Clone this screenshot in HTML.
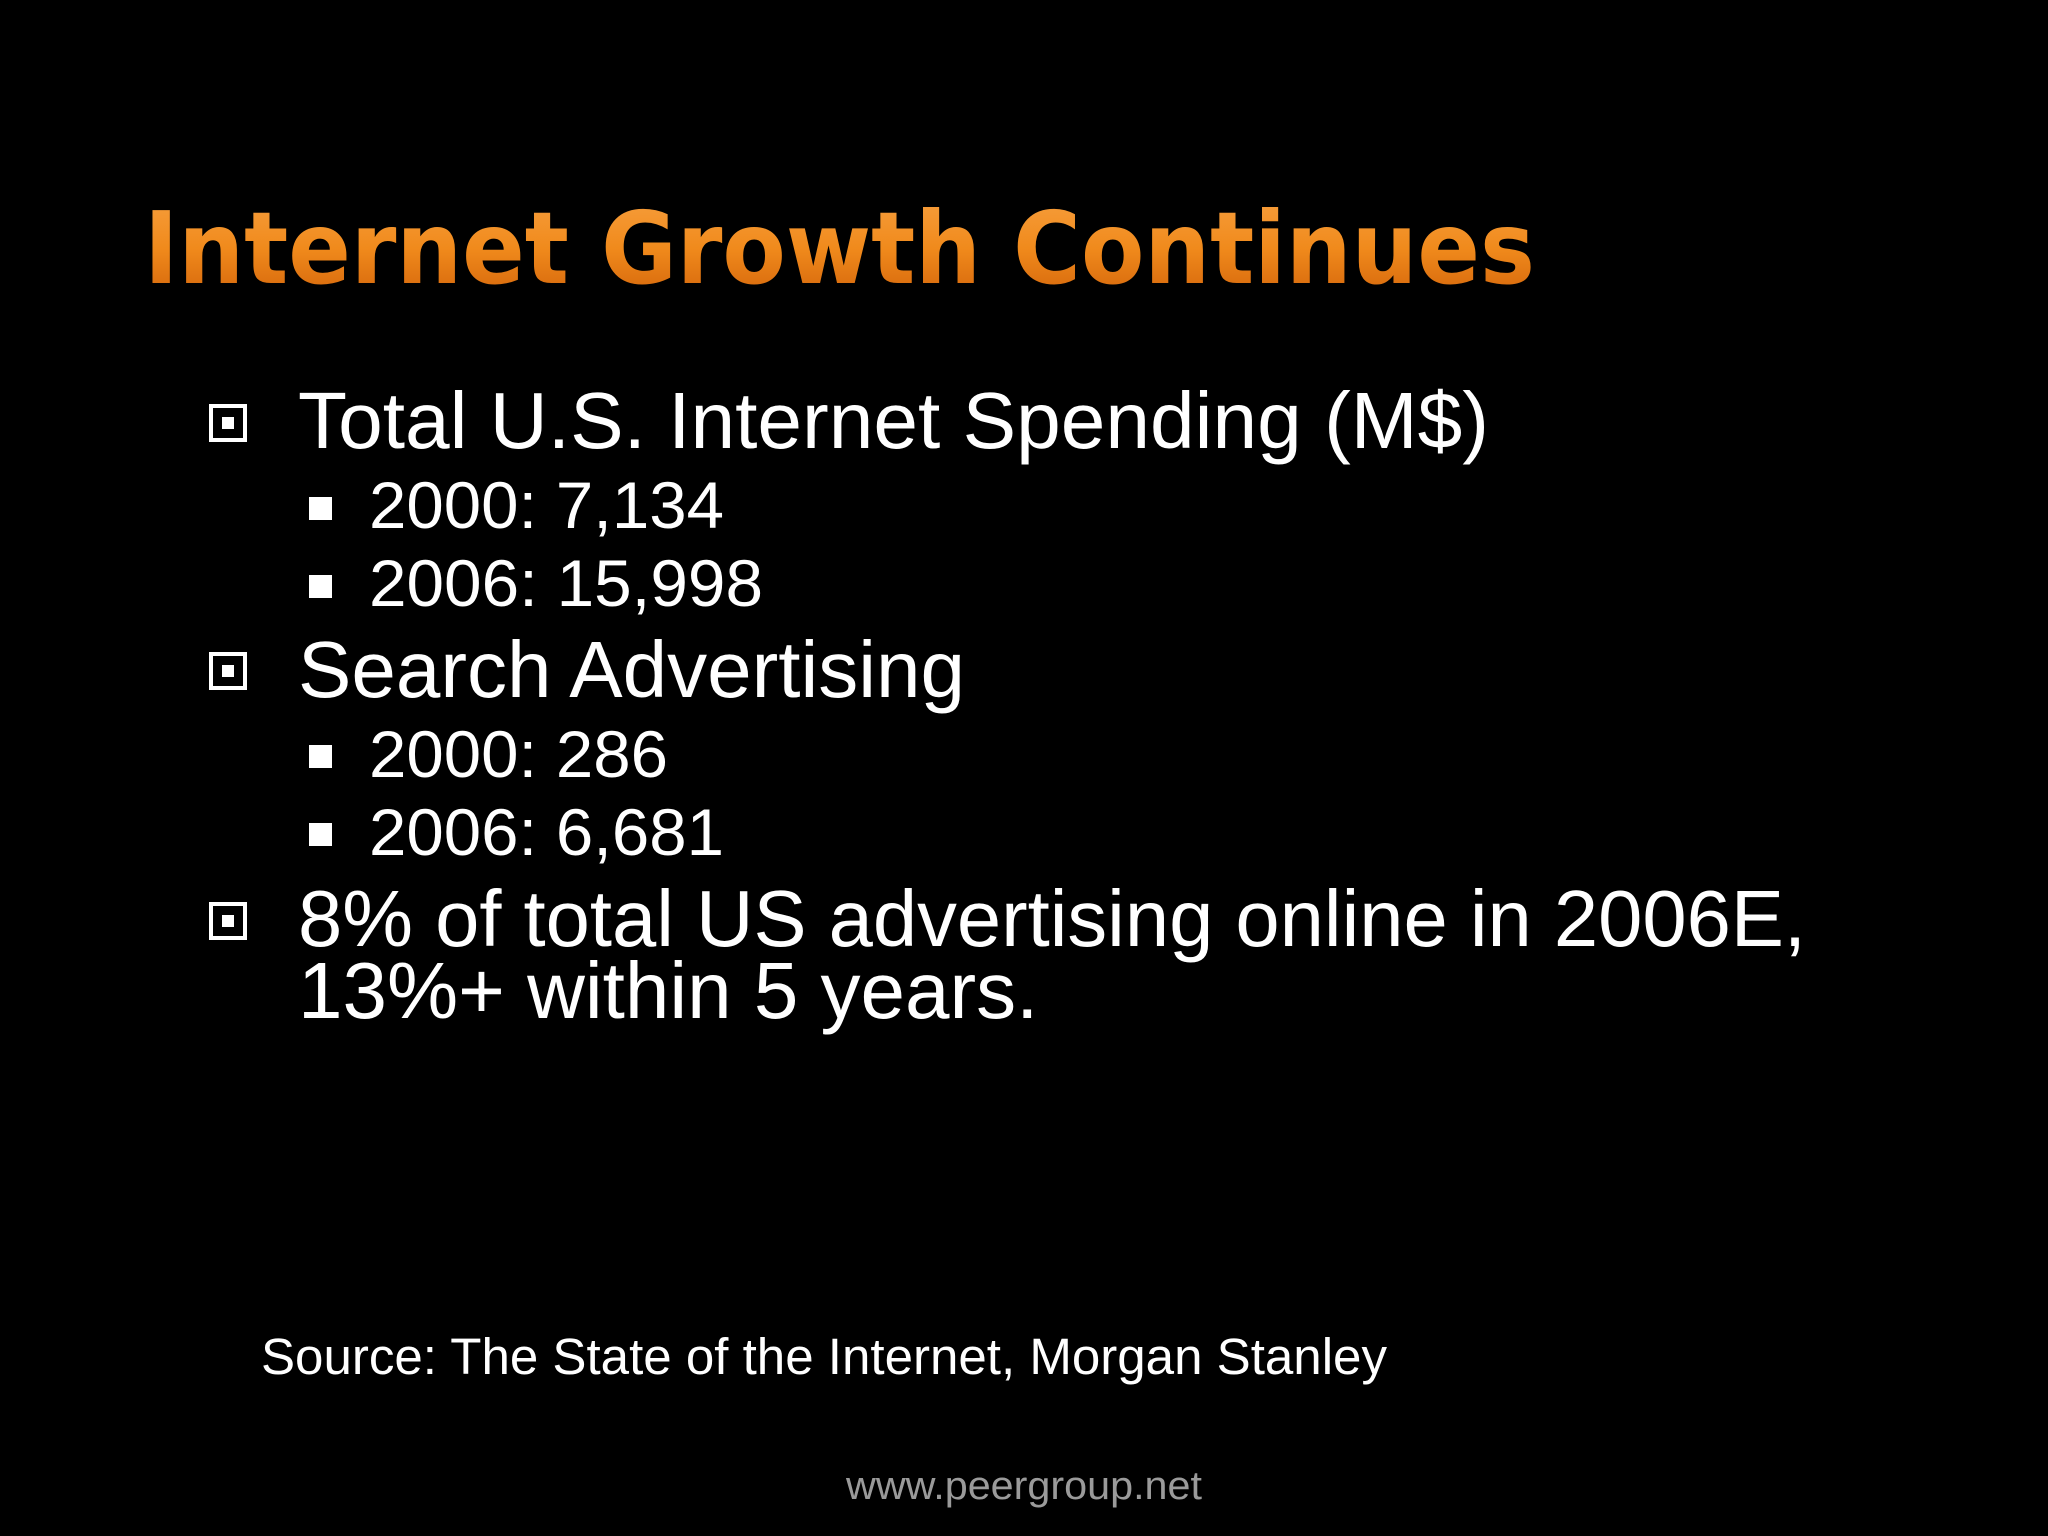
<!DOCTYPE html>
<html><head><meta charset="utf-8"><style>
html,body{margin:0;padding:0;background:#000;}
svg{display:block}
text{font-family:"Liberation Sans",Arial,sans-serif;fill:#fff}
</style></head><body>
<svg width="2048" height="1536" viewBox="0 0 2048 1536">
<defs><linearGradient id="og" x1="0" y1="0" x2="0" y2="1">
<stop offset="0" stop-color="#f7a040"/><stop offset="0.5" stop-color="#f08a1c"/><stop offset="1" stop-color="#d06008"/></linearGradient></defs>
<rect width="2048" height="1536" fill="#000"/>
<text x="144" y="283" font-size="100" font-weight="bold" style="font-family:'DejaVu Sans',sans-serif;fill:url(#og)" textLength="1391" lengthAdjust="spacingAndGlyphs">Internet Growth Continues</text>

<g>
<rect x="211" y="406" width="34" height="34" fill="none" stroke="#fff" stroke-width="4"/><rect x="222" y="417" width="12" height="12" fill="#fff"/>
<text x="298" y="448" font-size="80" textLength="1191" lengthAdjust="spacingAndGlyphs">Total U.S. Internet Spending (M$)</text></g>
<g><rect x="309" y="497" width="23" height="23" fill="#fff"/>
<text x="369" y="528" font-size="66" textLength="355" lengthAdjust="spacingAndGlyphs">2000: 7,134</text></g>
<g><rect x="309" y="575" width="23" height="23" fill="#fff"/>
<text x="369" y="606" font-size="66" textLength="394" lengthAdjust="spacingAndGlyphs">2006: 15,998</text></g>

<g>
<rect x="211" y="654" width="34" height="34" fill="none" stroke="#fff" stroke-width="4"/><rect x="222" y="665" width="12" height="12" fill="#fff"/>
<text x="298" y="697" font-size="80">Search Advertising</text></g>
<g><rect x="309" y="745" width="23" height="23" fill="#fff"/>
<text x="369" y="777" font-size="66" textLength="299" lengthAdjust="spacingAndGlyphs">2000: 286</text></g>
<g><rect x="309" y="823" width="23" height="23" fill="#fff"/>
<text x="369" y="855" font-size="66" textLength="355" lengthAdjust="spacingAndGlyphs">2006: 6,681</text></g>

<g>
<rect x="211" y="904" width="34" height="34" fill="none" stroke="#fff" stroke-width="4"/><rect x="222" y="915" width="12" height="12" fill="#fff"/>
<text x="298" y="946" font-size="80" textLength="1508" lengthAdjust="spacingAndGlyphs">8% of total US advertising online in 2006E,</text>
<text x="298" y="1018" font-size="80">13%+ within 5 years.</text></g>

<text x="261" y="1374" font-size="51" textLength="1126" lengthAdjust="spacingAndGlyphs">Source: The State of the Internet, Morgan Stanley</text>
<text x="1024" y="1499" font-size="40" text-anchor="middle" textLength="356" lengthAdjust="spacingAndGlyphs" style="fill:#9a9a9a">www.peergroup.net</text>
</svg>
</body></html>
